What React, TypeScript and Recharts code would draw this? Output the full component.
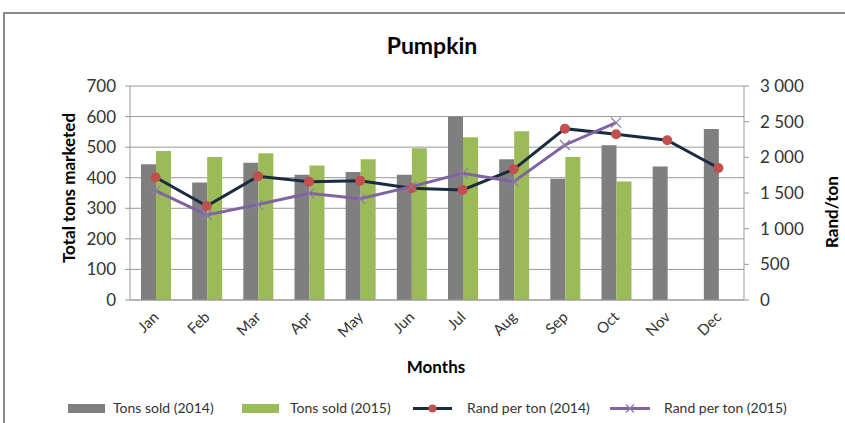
import React from "react";
import {
  ComposedChart,
  Bar,
  Line,
  XAxis,
  YAxis,
  CartesianGrid,
} from "recharts";

const months = ["Jan", "Feb", "Mar", "Apr", "May", "Jun", "Jul", "Aug", "Sep", "Oct", "Nov", "Dec"];
const tons2014 = [444, 384, 449, 410, 419, 410, 600, 460, 397, 506, 437, 559];
const tons2015: (number | null)[] = [487, 468, 480, 440, 460, 496, 532, 552, 468, 388, null, null];
const rand2014 = [1720, 1318, 1734, 1659, 1673, 1566, 1542, 1832, 2402, 2323, 2239, 1850];
const rand2015: (number | null)[] = [1533, 1192, 1338, 1495, 1421, 1589, 1776, 1659, 2173, 2486, null, null];
const leftTicks = [0, 100, 200, 300, 400, 500, 600, 700];
const rightTicks = [0, 500, 1000, 1500, 2000, 2500, 3000];

const data = months.map((m, i) => ({
  month: m,
  t14: tons2014[i],
  t15: tons2015[i],
  r14: rand2014[i],
  r15: rand2015[i],
}));

const FONT = "Lato, 'Open Sans', sans-serif";
const GRAY = "#7f7f7f";
const GREEN = "#9bbb59";
const NAVY = "#1b2b40";
const RED = "#c0504d";
const PURPLE = "#8064a2";
const AXIS = "#999999";

const fmtRight = (v: number) => (v >= 1000 ? `${Math.floor(v / 1000)} ${String(v % 1000).padStart(3, "0")}` : String(v));

const MonthTick = (props: any) => {
  const { x, y, payload } = props;
  return (
    <g transform={`translate(${x + 4},${y + 12})`}>
      <text x={0} y={0} textAnchor="end" transform="rotate(-45)" fontFamily={FONT} fontSize={15} fill="#333">
        {payload.value}
      </text>
    </g>
  );
};

const RedDot = (props: any) => {
  const { cx, cy } = props;
  if (cx == null || cy == null) return null;
  return <circle cx={cx} cy={cy} r={5} fill={RED} stroke="none" />;
};

const CrossDot = (props: any) => {
  const { cx, cy, value } = props;
  if (cx == null || cy == null || value == null) return null;
  const s = 5;
  return (
    <g stroke="#8a7aa8" strokeWidth={1.2}>
      <line x1={cx - s} y1={cy - s} x2={cx + s} y2={cy + s} />
      <line x1={cx - s} y1={cy + s} x2={cx + s} y2={cy - s} />
    </g>
  );
};

export default function App() {
  return (
    <div style={{ position: "absolute", left: 0, top: 0, width: 845, height: 423, background: "#fff", overflow: "hidden" }}>
      <div
        style={{
          position: "absolute",
          left: 3,
          top: 12,
          width: 900,
          height: 500,
          borderTop: "2px solid #8a8a8a",
          borderLeft: "2px solid #8a8a8a",
        }}
      />
      <div style={{ position: "absolute", left: 0, top: 0 }}>
        <ComposedChart
          width={845}
          height={423}
          data={data}
          margin={{ top: 86, right: 41, left: 70, bottom: 83 }}
          barGap={0}
        >
          <CartesianGrid vertical={false} stroke={AXIS} strokeWidth={1} yAxisId="left" />
          <XAxis
            dataKey="month"
            height={40}
            tickLine={false}
            stroke={AXIS}
            tick={<MonthTick />}
            interval={0}
            tickMargin={0}
          />
          <YAxis
            yAxisId="left"
            orientation="left"
            width={60}
            domain={[0, 700]}
            ticks={leftTicks}
            interval={0}
            stroke={AXIS}
            tickSize={5}
            tickMargin={9}
            tick={{ fill: "#333", fontFamily: FONT, fontSize: 17 }}
          />
          <YAxis
            yAxisId="right"
            orientation="right"
            width={60}
            domain={[0, 3000]}
            ticks={rightTicks}
            interval={0}
            stroke={AXIS}
            tickSize={5}
            tickMargin={11}
            tickFormatter={fmtRight}
            tick={{ fill: "#333", fontFamily: FONT, fontSize: 17, textAnchor: "start" }}
          />
          <Bar yAxisId="left" dataKey="t14" fill={GRAY} barSize={15} isAnimationActive={false} />
          <Bar yAxisId="left" dataKey="t15" fill={GREEN} barSize={15} isAnimationActive={false} />
          <Line
            yAxisId="right"
            dataKey="r14"
            stroke={NAVY}
            strokeWidth={3}
            dot={<RedDot />}
            activeDot={false}
            isAnimationActive={false}
          />
          <Line
            yAxisId="right"
            dataKey="r15"
            stroke={PURPLE}
            strokeWidth={3}
            dot={<CrossDot />}
            activeDot={false}
            connectNulls={false}
            isAnimationActive={false}
          />
        </ComposedChart>
      </div>
      <svg width={845} height={423} style={{ position: "absolute", left: 0, top: 0, pointerEvents: "none" }}>
        <text x={432} y={54} textAnchor="middle" fontFamily={FONT} fontWeight={700} fontSize={23} fill="#000">
          Pumpkin
        </text>
        <text
          x={0}
          y={0}
          transform="translate(75,188) rotate(-90)"
          textAnchor="middle"
          fontFamily={FONT}
          fontWeight={700}
          fontSize={17}
          fill="#000"
        >
          Total tons marketed
        </text>
        <text
          x={0}
          y={0}
          transform="translate(838,212) rotate(-90)"
          textAnchor="middle"
          fontFamily={FONT}
          fontWeight={700}
          fontSize={17}
          fill="#000"
        >
          Rand/ton
        </text>
        <text x={436} y={373} textAnchor="middle" fontFamily={FONT} fontWeight={700} fontSize={17} fill="#000">
          Months
        </text>
        <g fontFamily={FONT} fontSize={14} fill="#333">
          <rect x={68} y={404} width={37} height={9} fill={GRAY} />
          <text x={113} y={413}>Tons sold (2014)</text>
          <rect x={242} y={404} width={37} height={9} fill={GREEN} />
          <text x={290} y={413}>Tons sold (2015)</text>
          <line x1={413} y1={408.5} x2={452} y2={408.5} stroke={NAVY} strokeWidth={3} />
          <circle cx={432.5} cy={408.5} r={4} fill={RED} />
          <text x={467} y={413}>Rand per ton (2014)</text>
          <line x1={610} y1={408.5} x2={650} y2={408.5} stroke={PURPLE} strokeWidth={3} />
          <g stroke="#8a7aa8" strokeWidth={1.2}>
            <line x1={626} y1={404.5} x2={634} y2={412.5} />
            <line x1={626} y1={412.5} x2={634} y2={404.5} />
          </g>
          <text x={664} y={413}>Rand per ton (2015)</text>
        </g>
      </svg>
    </div>
  );
}
